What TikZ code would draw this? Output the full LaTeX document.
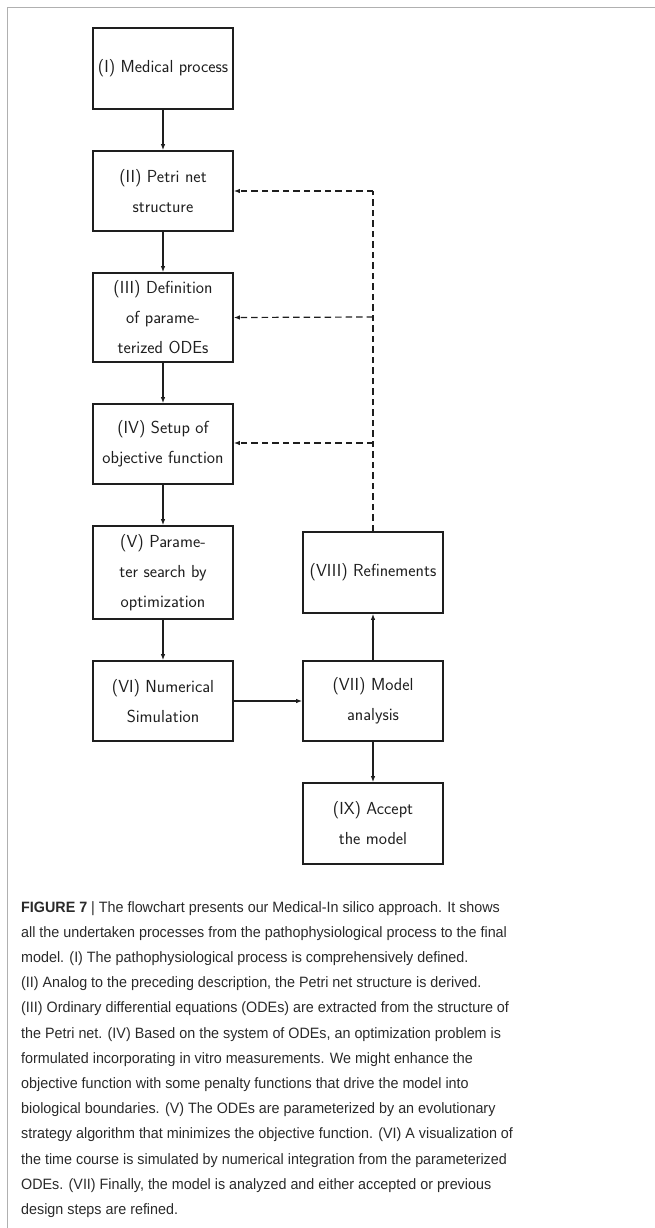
\documentclass[tikz,border=0pt]{standalone}
\usepackage{fontspec}
\newfontfamily\capfont[FakeStretch=0.955]{Liberation Sans}
\usetikzlibrary{arrows.meta}
\definecolor{framegray}{HTML}{B0B0B0}
\definecolor{boxink}{HTML}{1E1E1E}
\definecolor{capink}{HTML}{2A2A2A}
\tikzset{
  stepbox/.style={draw=boxink, line width=1.7pt, inner sep=0pt, minimum width=140pt,
    align=center, text=boxink, font=\sffamily\fontsize{17.4}{30}\selectfont},
  flow/.style={draw=boxink, line width=1.2pt, -{Latex[length=6pt,width=4.5pt]}},
  back/.style={draw=boxink, line width=1.2pt, dash pattern=on 6.5pt off 4pt},
  backarrow/.style={back, -{Latex[length=6pt,width=4.5pt]}},
  capline/.style={anchor=base west, inner sep=0pt, text=capink, font=\capfont\fontsize{15}{25}\selectfont}
}
\begin{document}
\begin{tikzpicture}[x=1pt, y=-1pt]
\useasboundingbox (0,0) rectangle (655,1228);
% frame
\draw[framegray, line width=1.5pt] (7.5,1228) -- (7.5,7.5) -- (655,7.5);
% left column
\node[stepbox, minimum height=81pt] (b1) at (163,68.5) {(I) Medical process};
\node[stepbox, minimum height=80pt] (b2) at (163,191) {(II) Petri net\\structure};
\node[stepbox, minimum height=89pt] (b3) at (163,317.5) {(III) Definition\\of parame-\\terized ODEs};
\node[stepbox, minimum height=80pt] (b4) at (163,444) {(IV) Setup of\\objective function};
\node[stepbox, minimum height=93pt] (b5) at (163,572.5) {(V) Parame-\\ter search by\\optimization};
\node[stepbox, minimum height=80pt] (b6) at (163,701) {(VI) Numerical\\Simulation};
% right column
\node[stepbox, minimum height=80pt] (b7) at (373,701) {(VII) Model\\analysis};
\node[stepbox, minimum height=81pt] (b8) at (373,572.5) {(VIII) Refinements};
\node[stepbox, minimum height=81pt] (b9) at (373,823.5) {(IX) Accept\\the model};
% solid arrows
\draw[flow] (b1) -- (b2);
\draw[flow] (b2) -- (b3);
\draw[flow] (b3) -- (b4);
\draw[flow] (b4) -- (b5);
\draw[flow] (b5) -- (b6);
\draw[flow] (b6) -- (b7);
\draw[flow] (b7) -- (b8);
\draw[flow] (b7) -- (b9);
% dashed feedback
\coordinate (t2) at (373,191);
\coordinate (t3) at (373,317);
\coordinate (t4) at (373,443);
\draw[back] (b8.north) -- (t2);
\draw[backarrow] (t2) -- (b2.east);
\draw[backarrow] (t3) -- (b3.east);
\draw[backarrow] (t4) -- (b4.east|-t4);
% caption
\node[capline] (c1) at (21,912) {\textbf{FIGURE 7} | The flowchart presents our Medical-In silico approach. It shows};
\node[capline] (c2) at (21,937.2) {all the undertaken processes from the pathophysiological process to the final};
\node[capline] (c3) at (21,962.4) {model. (I) The pathophysiological process is comprehensively defined.};
\node[capline] (c4) at (21,987.6) {(II) Analog to the preceding description, the Petri net structure is derived.};
\node[capline] (c5) at (21,1012.8) {(III) Ordinary differential equations (ODEs) are extracted from the structure of};
\node[capline] (c6) at (21,1038) {the Petri net. (IV) Based on the system of ODEs, an optimization problem is};
\node[capline] (c7) at (21,1063.2) {formulated incorporating in vitro measurements. We might enhance the};
\node[capline] (c8) at (21,1088.4) {objective function with some penalty functions that drive the model into};
\node[capline] (c9) at (21,1113.6) {biological boundaries. (V) The ODEs are parameterized by an evolutionary};
\node[capline] (c10) at (21,1138.8) {strategy algorithm that minimizes the objective function. (VI) A visualization of};
\node[capline] (c11) at (21,1164) {the time course is simulated by numerical integration from the parameterized};
\node[capline] (c12) at (21,1189.2) {ODEs. (VII) Finally, the model is analyzed and either accepted or previous};
\node[capline] (c13) at (21,1214.4) {design steps are refined.};
\end{tikzpicture}
\end{document}
